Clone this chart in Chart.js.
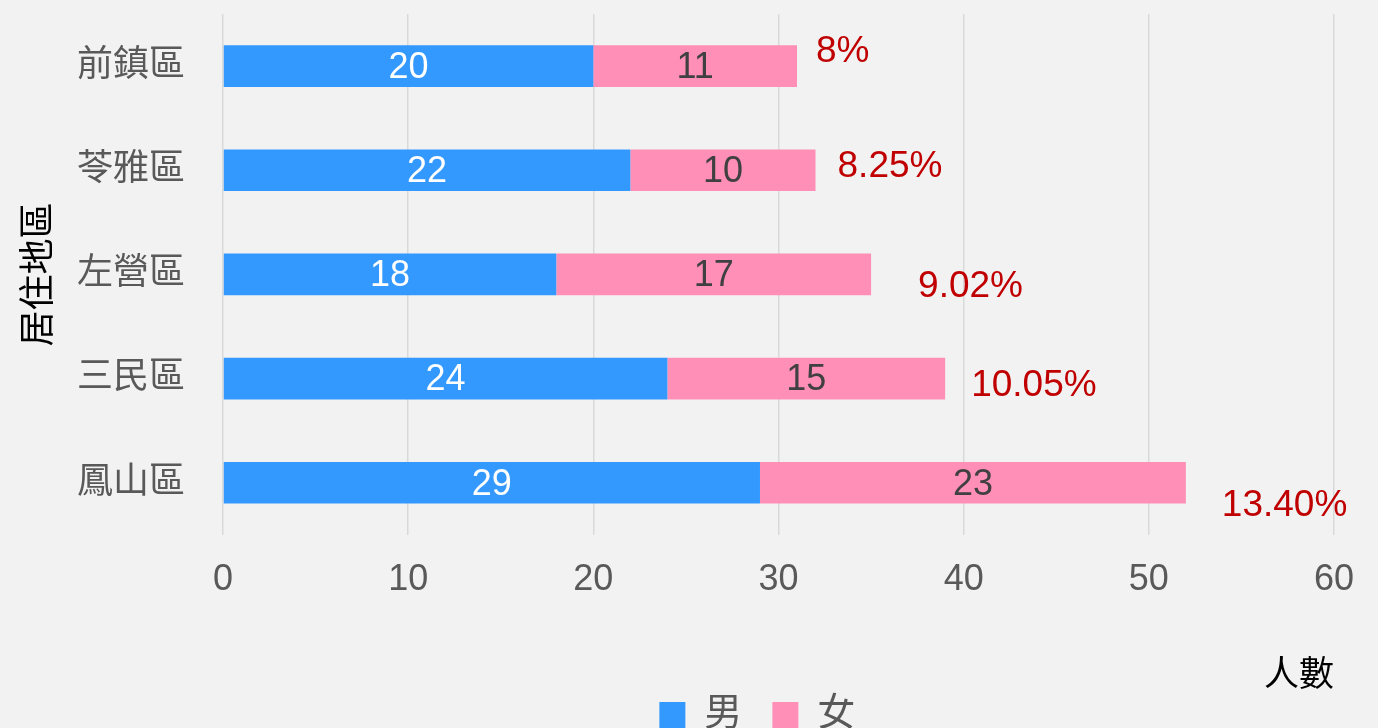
<!DOCTYPE html>
<html>
<head>
<meta charset="utf-8">
<script src="https://cdn.jsdelivr.net/npm/chart.js@4"></script>
<style>
  html, body { margin: 0; padding: 0; overflow: hidden; background: #f2f2f2; }
  #wrap { width: 1378px; height: 728px; overflow: hidden; }
</style>
</head>
<body>
<div id="wrap"><canvas id="areaChart" width="1378" height="744"></canvas></div>
<script>
// 居住地區 x 性別
const districts = ['前鎮區', '苓雅區', '左營區', '三民區', '鳳山區'];
const male = [20, 22, 18, 24, 29];
const female = [11, 10, 17, 15, 23];
const shares = ['8%', '8.25%', '9.02%', '10.05%', '13.40%'];
const xTicks = [0, 10, 20, 30, 40, 50, 60];

const FONT = "'Liberation Sans', 'Noto Sans CJK TC', sans-serif";

// share labels sit a little right of each stack, nudged like in the original
const shareNudge = [[19, -14], [22, -3], [47, 12], [26, 7], [36, 23]];

const barLabels = {
    id: 'barLabels',
    afterDatasetsDraw(chart) {
        const ctx = chart.ctx;
        ctx.save();
        ctx.font = '36px ' + FONT;
        ctx.textAlign = 'center';
        ctx.textBaseline = 'middle';
        chart.data.datasets.forEach((ds, i) => {
            const meta = chart.getDatasetMeta(i);
            meta.data.forEach((bar, j) => {
                ctx.fillStyle = i === 0 ? '#ffffff' : '#404040';
                ctx.fillText(ds.data[j], (bar.x + bar.base) / 2, bar.y + 2);
            });
        });
        // percentages after the pink segment
        const top = chart.getDatasetMeta(1);
        ctx.fillStyle = '#c00000';
        ctx.textAlign = 'left';
        ctx.font = '37px ' + FONT;
        top.data.forEach((bar, j) => {
            ctx.fillText(shares[j], bar.x + shareNudge[j][0], bar.y + shareNudge[j][1]);
        });
        ctx.restore();
    }
};

const ctx = document.getElementById('areaChart').getContext('2d');
new Chart(ctx, {
    type: 'bar',
    data: {
        labels: districts,
        datasets: [{
            label: '男',
            data: male,
            backgroundColor: '#3399ff',
            barPercentage: 0.4,
            categoryPercentage: 1
        }, {
            label: '女',
            data: female,
            backgroundColor: '#ff8fb6',
            barPercentage: 0.4,
            categoryPercentage: 1
        }]
    },
    options: {
        indexAxis: 'y',
        responsive: false,
        animation: false,
        layout: { padding: { top: 14, right: 40, left: 0, bottom: 0 } },
        plugins: {
            legend: {
                position: 'bottom',
                fullSize: false,
                labels: {
                    boxWidth: 26,
                    boxHeight: 26,
                    padding: 30,
                    color: '#595959',
                    font: { family: FONT, size: 38 },
                    // trailing blanks nudge the centred legend a bit to the left
                    generateLabels: (chart) => {
                        const items = Chart.defaults.plugins.legend.labels.generateLabels(chart);
                        items[items.length - 1].text += '    ';
                        return items;
                    }
                }
            },
            tooltip: { enabled: false }
        },
        scales: {
            x: {
                stacked: true,
                min: 0,
                max: 60,
                afterBuildTicks: (s) => { s.ticks = xTicks.map(v => ({ value: v })); },
                grid: { color: '#d9d9d9', lineWidth: 1.5, drawTicks: false },
                border: { display: false },
                ticks: { color: '#595959', padding: 24, font: { family: FONT, size: 36 } },
                title: {
                    display: true,
                    text: '人數',
                    align: 'end',
                    color: '#000000',
                    padding: { top: 29, bottom: -31 },
                    font: { family: FONT, size: 35 }
                }
            },
            y: {
                stacked: true,
                afterFit: (s) => { s.width = 223; s.paddingTop = 0; s.paddingBottom = 0; },
                grid: { display: false },
                border: { display: false },
                ticks: { color: '#595959', padding: 30, font: { family: FONT, size: 36 } },
                title: {
                    display: true,
                    text: '居住地區',
                    color: '#000000',
                    padding: { top: 18, bottom: 0 },
                    font: { family: FONT, size: 36 }
                }
            }
        }
    },
    plugins: [barLabels]
});
</script>
</body>
</html>
